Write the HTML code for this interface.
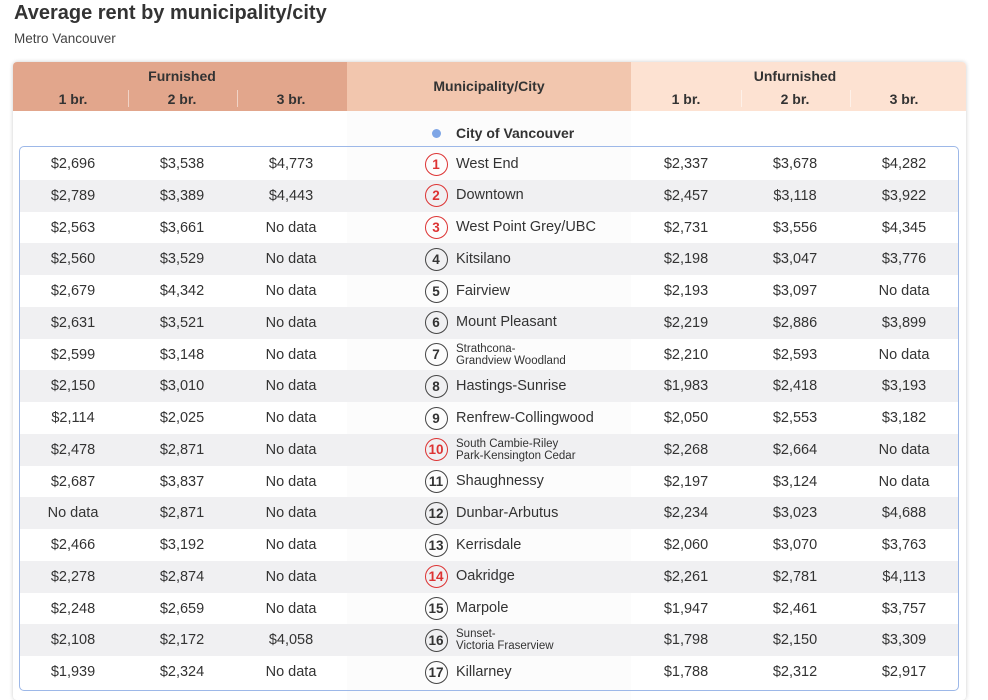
<!DOCTYPE html><html><head><style>
body{margin:0;width:988px;height:700px;background:#fff;font-family:"Liberation Sans",sans-serif;color:#333;position:relative;overflow:hidden}
.a{position:absolute}
.t{left:14px;top:2px;font-size:20px;font-weight:bold;color:#333}
.s{left:14px;top:31px;font-size:13.5px;color:#444}
.hd{top:62px;height:49px}
.h{font-size:14px;font-weight:bold;color:#333;text-align:center;width:100px;margin-left:-50px}
.row{left:19px;width:940px;height:31.75px}
.c{font-size:14.5px;text-align:center;width:100px;margin-left:-50px;line-height:31.75px}
.ci{width:21px;height:21px;border:1.3px solid #444;border-radius:50%;font-size:13.5px;font-weight:bold;text-align:center;line-height:21px;margin-left:-11.5px}
.r{border-color:#d33;color:#d33}
.n{font-size:14.5px;left:456px}
.n2{font-size:11.5px;line-height:12px;left:456px}
</style></head><body>
<div class="a t">Average rent by municipality/city</div>
<div class="a s">Metro Vancouver</div>
<div class="a" style="left:13px;top:62px;width:953px;height:638px;box-shadow:0 0 4px rgba(0,0,0,.2);border-radius:4px"></div>
<div class="a hd" style="left:13px;width:334px;background:#e2a68c;border-radius:4px 0 0 0"></div>
<div class="a hd" style="left:347px;width:284px;background:#f2c6ae"></div>
<div class="a hd" style="left:631px;width:335px;background:#fde2d2;border-radius:0 4px 0 0"></div>
<div class="a" style="left:347px;top:111px;width:284px;height:589px;background:#fcfcfc"></div>
<div class="a h" style="left:182px;top:68px">Furnished</div>
<div class="a h" style="left:489px;top:78px;width:200px;margin-left:-100px">Municipality/City</div>
<div class="a h" style="left:795px;top:68px">Unfurnished</div>
<div id="hb"></div>
<div class="a" style="left:432px;top:129px;width:9px;height:9px;border-radius:50%;background:#7fa6e6"></div>
<div class="a" style="left:456px;top:125px;font-size:14px;font-weight:bold">City of Vancouver</div>
<div id="rows"></div>
<div class="a" style="left:19px;top:146px;width:938px;height:543px;border:1px solid #9db8e8;border-radius:5px"></div>
<script>
var hb='';[73,182,291,686,795,904].forEach(function(x){hb+='<div class="a h" style="left:'+x+'px;top:91px">'+(x==73||x==686?'1':x==182||x==795?'2':'3')+' br.</div>'});
[128,237,741,850].forEach(function(x){hb+='<div class="a" style="left:'+x+'px;top:90px;width:1px;height:17px;background:rgba(255,255,255,.5)"></div>'});
document.getElementById('hb').innerHTML=hb;
var d=[["$2,696","$3,538","$4,773","West End","$2,337","$3,678","$4,282",1],
["$2,789","$3,389","$4,443","Downtown","$2,457","$3,118","$3,922",1],
["$2,563","$3,661","No data","West Point Grey/UBC","$2,731","$3,556","$4,345",1],
["$2,560","$3,529","No data","Kitsilano","$2,198","$3,047","$3,776"],
["$2,679","$4,342","No data","Fairview","$2,193","$3,097","No data"],
["$2,631","$3,521","No data","Mount Pleasant","$2,219","$2,886","$3,899"],
["$2,599","$3,148","No data","Strathcona-<br>Grandview Woodland","$2,210","$2,593","No data"],
["$2,150","$3,010","No data","Hastings-Sunrise","$1,983","$2,418","$3,193"],
["$2,114","$2,025","No data","Renfrew-Collingwood","$2,050","$2,553","$3,182"],
["$2,478","$2,871","No data","South Cambie-Riley<br>Park-Kensington Cedar","$2,268","$2,664","No data",1],
["$2,687","$3,837","No data","Shaughnessy","$2,197","$3,124","No data"],
["No data","$2,871","No data","Dunbar-Arbutus","$2,234","$3,023","$4,688"],
["$2,466","$3,192","No data","Kerrisdale","$2,060","$3,070","$3,763"],
["$2,278","$2,874","No data","Oakridge","$2,261","$2,781","$4,113",1],
["$2,248","$2,659","No data","Marpole","$1,947","$2,461","$3,757"],
["$2,108","$2,172","$4,058","Sunset-<br>Victoria Fraserview","$1,798","$2,150","$3,309"],
["$1,939","$2,324","No data","Killarney","$1,788","$2,312","$2,917"]];
var h='';d.forEach(function(r,i){var y=148+i*31.75;
if(i%2)h+='<div class="a row" style="top:'+y+'px;background:#f0f0f2"></div>';
[73,182,291,null,686,795,904].forEach(function(x,j){if(x)h+='<div class="a c" style="left:'+x+'px;top:'+(y+1)+'px">'+r[j]+'</div>'});
h+='<div class="a ci'+(r[7]?' r':'')+'" style="left:436px;top:'+(y+4.5)+'px">'+(i+1)+'</div>';
var two=r[3].indexOf('<br>')>=0;
h+='<div class="a '+(two?'n2':'n')+'" style="top:'+(two?y+4:y+7.5)+'px">'+r[3]+'</div>';});
document.getElementById('rows').innerHTML=h;
</script>
</body></html>
